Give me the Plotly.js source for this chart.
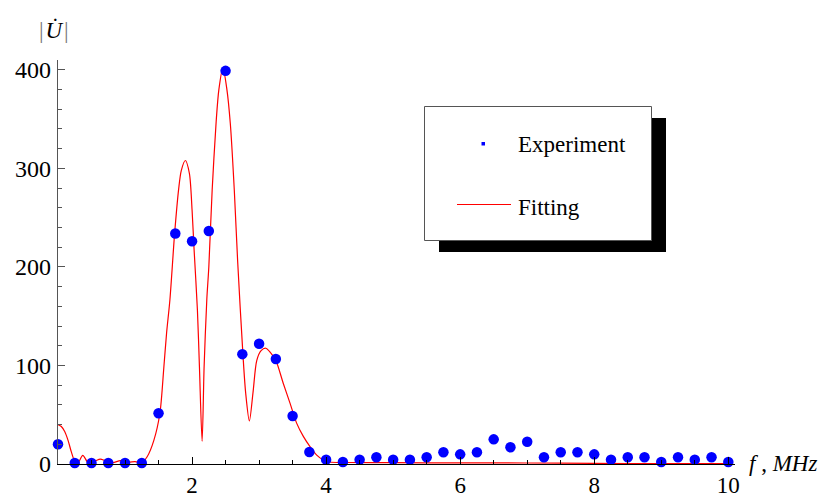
<!DOCTYPE html>
<html>
<head>
<meta charset="utf-8">
<script src="https://cdn.plot.ly/plotly-3.0.1.min.js"></script>
<style>
  html, body { margin: 0; padding: 0; background: #fff; }
  #chart { width: 834px; height: 499px; }
</style>
</head>
<body>
<div id="chart"></div>
<script>
// Measured spectrum amplitude |U| versus frequency f (MHz)
const expFreq = [0, 0.25, 0.5, 0.75, 1, 1.25, 1.5, 1.75, 2, 2.25, 2.5, 2.75, 3, 3.25, 3.5, 3.75,
  4, 4.25, 4.5, 4.75, 5, 5.25, 5.5, 5.75, 6, 6.25, 6.5, 6.75, 7, 7.25, 7.5, 7.75,
  8, 8.25, 8.5, 8.75, 9, 9.25, 9.5, 9.75, 10];
const expAmp = [20, 1, 1, 1, 1, 1, 51.5, 234, 226, 236.5, 399, 111.5, 122, 106.5, 48.7, 12.2,
  4.4, 2, 4.4, 6.8, 4.4, 4.4, 6.8, 12, 9.8, 12, 25, 17, 22.6, 6.8, 12, 12,
  9.8, 4.4, 6.8, 6.8, 2, 6.8, 4.4, 6.8, 2];

// Fitted model curve, sampled along f
const fitFreq = [0, 0.05, 0.1, 0.15, 0.2, 0.25, 0.3, 0.37, 0.45, 0.55, 0.63, 0.72, 0.82, 0.93, 1.05, 1.15,
  1.25, 1.33, 1.43, 1.52, 1.58, 1.62, 1.67, 1.74, 1.8, 1.84, 1.9, 1.96, 2.0, 2.03, 2.08, 2.11,
  2.15, 2.18, 2.22, 2.25, 2.3, 2.36, 2.4, 2.46, 2.52, 2.57, 2.63, 2.68, 2.76, 2.8, 2.855, 2.91,
  2.965, 3.03, 3.1, 3.17, 3.25, 3.36, 3.46, 3.56, 3.66, 3.76, 3.86, 3.96, 4.05, 4.3, 5, 6, 7, 8, 9, 10];
const fitAmp = [40, 38, 33, 24, 12, 3, 1.5, 8.8, 1.5, 3, 5, 3, 1.5, 3.4, 2, 2.5,
  1.5, 7.4, 24, 51.5, 99, 133, 167, 234, 279, 298, 308, 295, 258, 218, 156, 99,
  23, 99, 167, 200, 278, 348, 380, 402, 380, 346, 278, 206, 110, 72, 43.7, 73,
  105, 115, 117.5, 113, 105, 82, 62, 41.5, 28, 17.6, 9, 4, 2, 1.5, 1.3, 1.2, 1, 0.6, 0.4, 0.3];

const xTicks = [2, 4, 6, 8, 10];
const yTicks = [0, 100, 200, 300, 400];
const legendNames = ['Experiment', 'Fitting'];

// Page geometry, used to place the hand-drawn legend box and axis captions
const W = 834, H = 499;
const M = { l: 58, r: 99, t: 60, b: 35 };
const pw = W - M.l - M.r, ph = H - M.t - M.b;
const px = X => (X - M.l) / pw;
const py = Y => (H - M.b - Y) / ph;

const serif = '"Liberation Serif", "Times New Roman", Times, serif';
const txt = (size) => ({ family: serif, size: size, color: '#000' });

const traces = [
  {
    x: fitFreq, y: fitAmp, type: 'scatter', mode: 'lines',
    line: { color: '#ff0000', width: 1.2, shape: 'spline', smoothing: 0.8 },
    name: legendNames[1], showlegend: false, hoverinfo: 'x+y'
  },
  {
    x: expFreq, y: expAmp, type: 'scatter', mode: 'markers',
    marker: { color: '#0000ff', size: 10.5, line: { width: 0 } },
    cliponaxis: false,
    name: legendNames[0], showlegend: false, hoverinfo: 'x+y'
  }
];

const layout = {
  width: W, height: H,
  margin: M,
  paper_bgcolor: '#ffffff', plot_bgcolor: '#ffffff',
  showlegend: false,
  font: txt(22),
  xaxis: {
    range: [0, 10.1], tickvals: xTicks, ticktext: xTicks.map(String),
    showline: true, linecolor: '#000', linewidth: 1.2,
    ticks: 'inside', ticklen: 7, tickwidth: 1, tickcolor: '#000',
    minor: { dtick: 0.5, tick0: 0, ticks: 'inside', ticklen: 4, tickwidth: 1, tickcolor: '#000' },
    showgrid: false, zeroline: false,
    tickfont: txt(23),
    ticklabelstandoff: 0
  },
  yaxis: {
    range: [0, 410], tickvals: yTicks, ticktext: yTicks.map(String),
    showline: true, linecolor: '#555', linewidth: 1.2,
    ticks: 'inside', ticklen: 7, tickwidth: 1, tickcolor: '#555',
    minor: { dtick: 20, tick0: 0, ticks: 'inside', ticklen: 4, tickwidth: 1, tickcolor: '#555' },
    showgrid: false, zeroline: false,
    tickfont: txt(24),
    ticklabelstandoff: 1
  },
  shapes: [
    // legend drop shadow and frame
    { type: 'rect', xref: 'paper', yref: 'paper', x0: px(439), x1: px(666), y0: py(252), y1: py(118),
      fillcolor: '#000', line: { width: 0 } },
    { type: 'rect', xref: 'paper', yref: 'paper', x0: px(424.5), x1: px(651.5), y0: py(240.5), y1: py(106.5),
      fillcolor: '#fff', line: { color: '#555', width: 1 } },
    // legend symbols
    { type: 'rect', xref: 'paper', yref: 'paper', x0: px(481.5), x1: px(485), y0: py(145.5), y1: py(142),
      fillcolor: '#0000ff', line: { width: 0 } },
    { type: 'line', xref: 'paper', yref: 'paper', x0: px(457), x1: px(511), y0: py(204.5), y1: py(204.5),
      line: { color: '#ff0000', width: 1.2 } }
  ],
  annotations: [
    { xref: 'paper', yref: 'paper', x: px(516), y: py(144), xanchor: 'left', yanchor: 'middle',
      text: legendNames[0], showarrow: false, font: txt(23) },
    { xref: 'paper', yref: 'paper', x: px(516), y: py(207), xanchor: 'left', yanchor: 'middle',
      text: legendNames[1], showarrow: false, font: txt(23) },
    // axis captions
    { xref: 'paper', yref: 'paper', x: px(54), y: py(31), xanchor: 'center', yanchor: 'middle',
      text: '<span style="color:#777">|</span>\u200a<i>U\u0307</i>\u200a<span style="color:#777">|</span>',
      showarrow: false, font: txt(23) },
    { xref: 'paper', yref: 'paper', x: px(747), y: py(463), xanchor: 'left', yanchor: 'middle',
      text: '<i>f</i> , <i>MHz</i>', showarrow: false, font: txt(23) }
  ]
};

Plotly.newPlot('chart', traces, layout, { staticPlot: true, displayModeBar: false });
</script>
</body>
</html>
